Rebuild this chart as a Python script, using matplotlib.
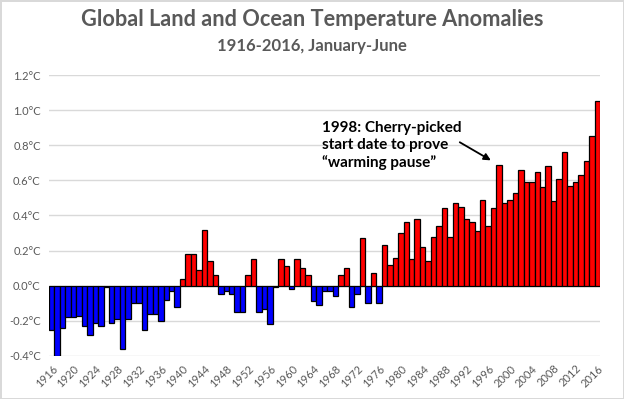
import matplotlib

matplotlib.use("Agg")
import matplotlib.pyplot as plt
import numpy as np

plt.rcParams["font.family"] = ["Lato", "DejaVu Sans"]

# Jan-Jun global land+ocean anomalies (°C)
years = np.arange(1916, 2017)
anomalies = [
    -0.25, -0.40, -0.24, -0.18, -0.18, -0.17, -0.23, -0.28, -0.21, -0.23,
    -0.01, -0.21, -0.19, -0.36, -0.19, -0.10, -0.10, -0.25, -0.16, -0.16,
    -0.20, -0.08, -0.03, -0.12, 0.04, 0.18, 0.18, 0.09, 0.32, 0.14,
    0.06, -0.05, -0.03, -0.05, -0.15, -0.15, 0.06, 0.15, -0.15, -0.13,
    -0.22, -0.01, 0.15, 0.11, -0.02, 0.15, 0.10, 0.06, -0.09, -0.11,
    -0.03, -0.03, -0.06, 0.06, 0.10, -0.12, -0.05, 0.27, -0.10, 0.07,
    -0.10, 0.23, 0.12, 0.16, 0.30, 0.36, 0.15, 0.38, 0.22, 0.14,
    0.28, 0.34, 0.44, 0.28, 0.47, 0.45, 0.38, 0.36, 0.31, 0.49,
    0.34, 0.44, 0.69, 0.47, 0.49, 0.53, 0.66, 0.59, 0.59, 0.65,
    0.56, 0.68, 0.48, 0.61, 0.76, 0.57, 0.59, 0.63, 0.71, 0.85,
    1.05,
]
y_ticks = [-0.4, -0.2, 0.0, 0.2, 0.4, 0.6, 0.8, 1.0, 1.2]
x_ticks = list(range(1916, 2017, 4))

title = "Global Land and Ocean Temperature Anomalies"
subtitle = "1916-2016, January-June"
note = "1998: Cherry-picked\nstart date to prove\n\u201cwarming pause\u201d"

vals = np.array(anomalies)
colors = np.where(vals >= 0, "#ff0000", "#0000ff")

fig = plt.figure(figsize=(6.24, 3.99), dpi=100)
fig.patch.set_edgecolor("#d9d9d9")
fig.patch.set_linewidth(2)
ax = fig.add_axes([0.0785, 0.108, 0.883, 0.704])

ax.bar(years, vals, width=1.0, color=colors, edgecolor="black", linewidth=0.9, zorder=3)

ax.set_xlim(1915.5, 2016.5)
ax.set_ylim(-0.4, 1.2)
ax.set_yticks(y_ticks)
ax.set_yticklabels([f"{v:.1f}°C" for v in y_ticks], color="#595959", fontsize=8)
ax.set_xticks(x_ticks)
ax.set_xticklabels([str(y) for y in x_ticks], rotation=45, ha="right",
                   rotation_mode="anchor", color="#595959", fontsize=8)
ax.tick_params(axis="both", length=0)
ax.tick_params(axis="y", pad=6)
ax.tick_params(axis="x", pad=5)
ax.grid(axis="y", color="#d9d9d9", linewidth=1, zorder=0)
for s in ax.spines.values():
    s.set_visible(False)

fig.text(0.5, 0.952, title, ha="center", va="center", fontsize=15.7,
         fontweight="bold", color="#595959")
fig.text(0.5, 0.885, subtitle, ha="center", va="center", fontsize=12,
         fontweight="bold", color="#595959")

ax.text(1965.6, 0.80, note, fontsize=11, fontweight="bold", color="black",
        ha="left", va="center", linespacing=1.25, zorder=5)
ax.annotate("", xy=(1996.5, 0.714), xytext=(1990.8, 0.817),
            arrowprops=dict(arrowstyle="-|>", color="black", lw=1.3,
                            mutation_scale=10, shrinkA=0, shrinkB=0),
            zorder=5)

fig.savefig("out.png", dpi=100)
